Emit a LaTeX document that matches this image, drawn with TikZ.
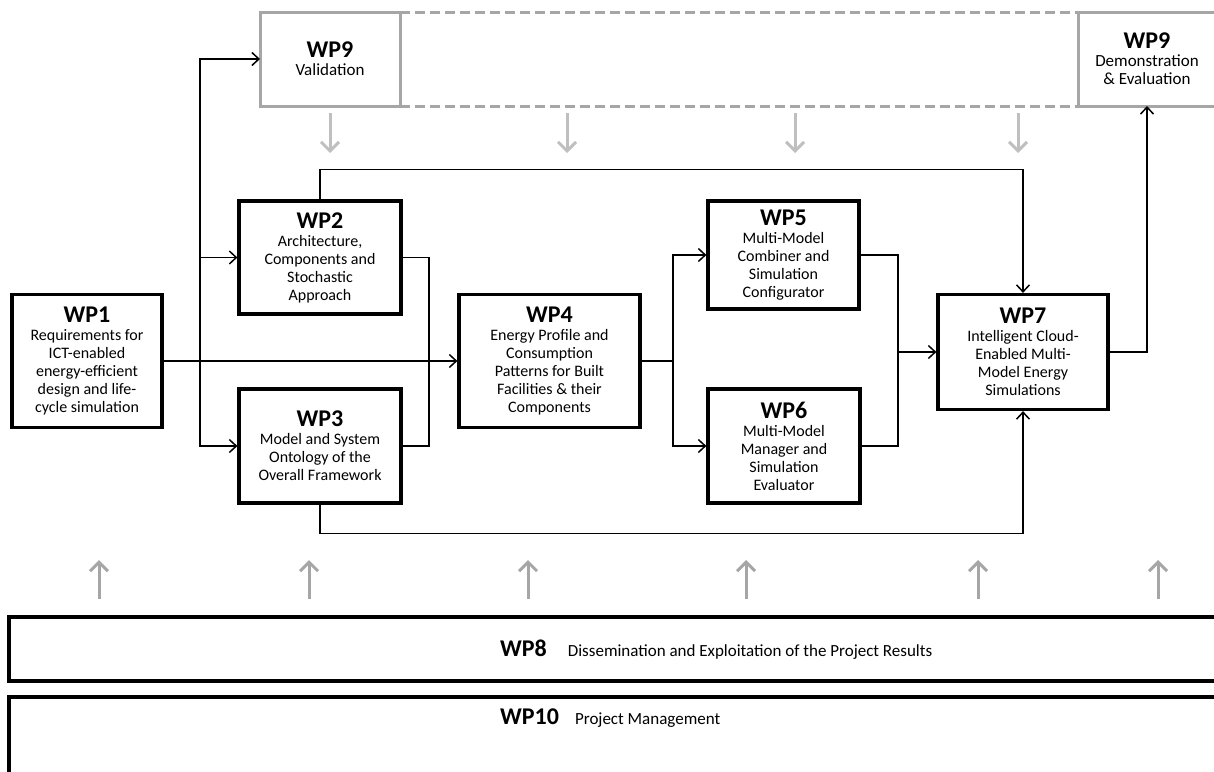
\documentclass[tikz,border=0pt]{standalone}
\usepackage{fontspec}
\setmainfont{Carlito}
\usetikzlibrary{arrows.meta,calc}
\pgfkeys{/pixel/.code=\tikzset{x={(1pt,0pt)},y={(0pt,-1pt)}}}
\definecolor{valgray}{RGB}{166,166,166}
\definecolor{tipgray}{RGB}{191,191,191}
\newcommand{\wpname}[1]{{\fontsize{24}{26}\selectfont\textbf{#1}}}

\begin{document}
\begin{tikzpicture}[/pixel,
  wpbox/.style={draw,line width=3.2pt,align=center,inner sep=0pt,font=\fontsize{16}{18}\selectfont},
  valbox/.style={draw=valgray,line width=3pt,outer sep=0pt,align=center,inner sep=0pt,minimum height=94,font=\fontsize{17}{18}\selectfont},
  link/.style={line width=1.5pt},
  wire/.style={link,-{Straight Barb[length=7pt,width=13pt]}},
  downtip/.style={tipgray,line width=3pt,-{Straight Barb[length=9pt,width=18pt]}},
  uptip/.style={valgray,line width=3pt,-{Straight Barb[length=9pt,width=18pt]}}]
\useasboundingbox (0,0) rectangle (1214,771);
\node[valbox,minimum width=140] (val) at (330,59) {\wpname{WP9}\\ Validation};
\node[valbox,minimum width=138] (demo) at (1147,59) {\wpname{WP9}\\ Demonstration\\ \& Evaluation};
\draw[valgray,line width=3pt,dash pattern=on 10pt off 5pt] (val.north east) -- (demo.north west);
\draw[valgray,line width=3pt,dash pattern=on 10pt off 5pt] (val.south east) -- (demo.south west);
\foreach \x in {330,567,795,1018} \draw[downtip] (\x,113) -- (\x,153);

\node[wpbox,minimum width=150,minimum height=133] (wp1) at (87,361) {\wpname{WP1}\\ Requirements for\\ ICT-enabled\\ energy-efficient\\ design and life-\\ cycle simulation};
\node[wpbox,minimum width=162,minimum height=113] (wp2) at (320,257.5) {\wpname{WP2}\\ Architecture,\\ Components and\\ Stochastic\\ Approach};
\node[wpbox,minimum width=162,minimum height=114] (wp3) at (320,446) {\wpname{WP3}\\ Model and System\\ Ontology of the\\ Overall Framework};
\node[wpbox,minimum width=181,minimum height=133] (wp4) at (549.5,361) {\wpname{WP4}\\ Energy Profile and\\ Consumption\\ Patterns for Built\\ Facilities \& their\\ Components};
\node[wpbox,minimum width=151,minimum height=108] (wp5) at (783.5,255) {\wpname{WP5}\\ Multi-Model\\ Combiner and\\ Simulation\\ Configurator};
\node[wpbox,minimum width=152,minimum height=114] (wp6) at (784,446) {\wpname{WP6}\\ Multi-Model\\ Manager and\\ Simulation\\ Evaluator};
\node[wpbox,minimum width=170,minimum height=115] (wp7) at (1023,352) {\wpname{WP7}\\ Intelligent Cloud-\\ Enabled Multi-\\ Model Energy\\ Simulations};

\coordinate (split) at (200,361);
\coordinate (join) at (429,361);
\coordinate (fork) at (673,361);
\coordinate (merge) at (898,352);
\draw[wire] (wp1.east) -- (wp4.west);
\draw[wire] (split) |- (val.west);
\draw[wire] (split) |- (wp2.west);
\draw[wire] (split) |- (wp3.west);
\draw[link] (wp2.east) -| (join);
\draw[link] (wp3.east) -| (join);
\draw[wire] (wp2.north) -- ++(0,-30) -| (wp7.north);
\draw[wire] (wp3.south) -- ++(0,29) -| (wp7.south);
\draw[link] (wp4.east) -- (fork);
\draw[wire] (fork) |- (wp5.west);
\draw[wire] (fork) |- (wp6.west);
\draw[link] (wp5.east) -| (merge);
\draw[link] (wp6.east) -| (merge);
\draw[wire] (merge) -- (wp7.west);
\draw[wire] (wp7.east) -| (demo.south);

\foreach \x in {99,309,528,746,978,1158} \draw[uptip] (\x,599) -- (\x,560);
\node[wpbox,minimum width=1211,minimum height=64] (wp8) at (614.5,649) {};
\node[wpbox,minimum width=1211,minimum height=103] (wp10) at (614.5,748.5) {};
\node[anchor=west,inner sep=0pt] (wp8text) at (500,650) {\wpname{WP8}\hspace{21pt}\fontsize{17}{18}\selectfont Dissemination and Exploitation of the Project Results};
\node[anchor=west,inner sep=0pt] (wp10text) at (500,718) {\wpname{WP10}\hspace{16pt}\fontsize{17}{18}\selectfont Project Management};
\end{tikzpicture}
\end{document}
